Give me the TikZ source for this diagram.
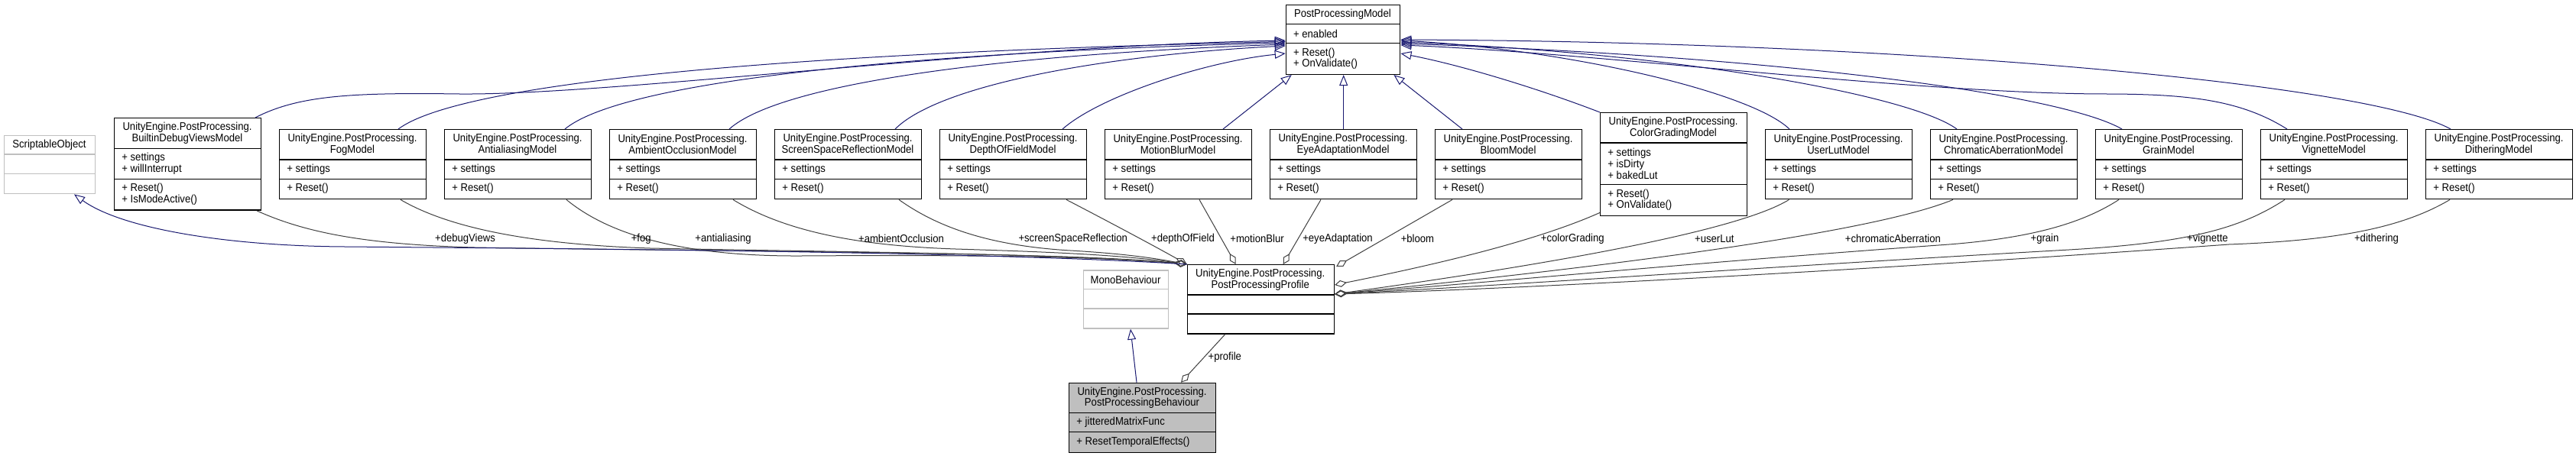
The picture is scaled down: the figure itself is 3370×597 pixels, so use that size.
\documentclass[tikz,border=0pt]{standalone}
\usepackage{fontspec}
\setmainfont{Liberation Sans}[FakeStretch=0.91]
\usetikzlibrary{arrows.meta,calc}
\definecolor{navy}{HTML}{191970}
\definecolor{edgegray}{HTML}{404040}
\definecolor{boxgray}{HTML}{BFBFBF}
\newcommand\umlfont{\fontsize{7.2}{7.35}\selectfont}
\def\splitthree#1/#2/#3\relax{\def\ha{#1}\def\hb{#2}\def\hc{#3}}
\tikzset{
  umlbox/.style={draw=black, fill=white, line width=0.7pt},
  extbox/.style={draw=boxgray, fill=white, line width=0.7pt},
  curbox/.style={draw=black, fill=boxgray, line width=0.7pt},
  txt/.style={inner sep=0pt, font=\umlfont},
  lbl/.style={inner sep=0pt, font=\umlfont},
  inh/.style={draw=navy, line width=0.5pt, -{Triangle[open, length=7pt, width=5.5pt]}},
  comp/.style={draw=edgegray, line width=0.5pt, -{Diamond[open, length=8pt, width=4.5pt]}},
}
% #1 style, #2 name, #3 x, #4 y, #5 width, #6 h1/h2/h3, #7 title, #8 attributes, #9 methods
\newcommand\classbox[9]{%
  \splitthree#6\relax
  \pgfmathsetmacro\yA{#4+\ha}%
  \pgfmathsetmacro\yB{\yA+\hb}%
  \pgfmathsetmacro\yC{\yB+\hc}%
  \node[#1, inner sep=0pt, anchor=north west, minimum width=#5*0.5pt, minimum height=(\yC-#4)*0.5pt] (#2) at (#3,#4) {};
  \draw[#1] (#3,\yA) -- ++(#5,0);
  \draw[#1] (#3,\yB) -- ++(#5,0);
  \node[txt, align=center] (#2-t) at ({#3+#5/2},{#4+\ha/2}) {#7};
  \node[txt, align=left, anchor=west] (#2-a) at ({#3+10},{\yA+\hb/2}) {#8};
  \node[txt, align=left, anchor=west] (#2-m) at ({#3+10},{\yB+\hc/2}) {#9};
}
\begin{document}
\begin{tikzpicture}[x=0.5pt,y=-0.5pt]
\fill[white] (0,0) rectangle (3370,597);
\useasboundingbox (0,0) rectangle (3370,597);

% classes
\classbox{extbox}{so}{5}{177}{119}{25/25.5/25.5}{ScriptableObject}{}{}
\classbox{umlbox}{model}{1681.7}{5.7}{149.3}{26/25/40}{PostProcessingModel}{+ enabled}{+ Reset()\\+ OnValidate()}
\classbox{umlbox}{debug}{149}{154}{192}{40.5/40/40}{UnityEngine.PostProcessing.\\BuiltinDebugViewsModel}{+ settings\\+ willInterrupt}{+ Reset()\\+ IsModeActive()}
\classbox{umlbox}{fog}{365}{169}{192}{40/25.5/25.5}{UnityEngine.PostProcessing.\\FogModel}{+ settings}{+ Reset()}
\classbox{umlbox}{aa}{581}{169}{192}{40/25.5/25.5}{UnityEngine.PostProcessing.\\AntialiasingModel}{+ settings}{+ Reset()}
\classbox{umlbox}{ao}{797}{169}{192}{40/25.5/25.5}{UnityEngine.PostProcessing.\\AmbientOcclusionModel}{+ settings}{+ Reset()}
\classbox{umlbox}{ssr}{1013}{169}{192}{40/25.5/25.5}{UnityEngine.PostProcessing.\\ScreenSpaceReflectionModel}{+ settings}{+ Reset()}
\classbox{umlbox}{dof}{1229}{169}{192}{40/25.5/25.5}{UnityEngine.PostProcessing.\\DepthOfFieldModel}{+ settings}{+ Reset()}
\classbox{umlbox}{mb}{1445}{169}{192}{40/25.5/25.5}{UnityEngine.PostProcessing.\\MotionBlurModel}{+ settings}{+ Reset()}
\classbox{umlbox}{ea}{1661}{169}{192}{40/25.5/25.5}{UnityEngine.PostProcessing.\\EyeAdaptationModel}{+ settings}{+ Reset()}
\classbox{umlbox}{bloom}{1877}{169}{192}{40/25.5/25.5}{UnityEngine.PostProcessing.\\BloomModel}{+ settings}{+ Reset()}
\classbox{umlbox}{cg}{2093}{147}{192}{40/54.7/40.3}{UnityEngine.PostProcessing.\\ColorGradingModel}{+ settings\\+ isDirty\\+ bakedLut}{+ Reset()\\+ OnValidate()}
\classbox{umlbox}{ul}{2309}{169}{192}{40/25.5/25.5}{UnityEngine.PostProcessing.\\UserLutModel}{+ settings}{+ Reset()}
\classbox{umlbox}{ca}{2525}{169}{192}{40/25.5/25.5}{UnityEngine.PostProcessing.\\ChromaticAberrationModel}{+ settings}{+ Reset()}
\classbox{umlbox}{grain}{2741}{169}{192}{40/25.5/25.5}{UnityEngine.PostProcessing.\\GrainModel}{+ settings}{+ Reset()}
\classbox{umlbox}{vig}{2957}{169}{192}{40/25.5/25.5}{UnityEngine.PostProcessing.\\VignetteModel}{+ settings}{+ Reset()}
\classbox{umlbox}{dith}{3173}{169}{192}{40/25.5/25.5}{UnityEngine.PostProcessing.\\DitheringModel}{+ settings}{+ Reset()}
\classbox{umlbox}{profile}{1552.7}{346}{192}{40/25/25.3}{UnityEngine.PostProcessing.\\PostProcessingProfile}{}{}
\classbox{extbox}{mono}{1417}{353.3}{111}{25.4/25.3/25.3}{MonoBehaviour}{}{}
\classbox{curbox}{beh}{1398}{500.7}{192}{40/25/26}{UnityEngine.PostProcessing.\\PostProcessingBehaviour}{+ jitteredMatrixFunc}{+ ResetTemporalEffects()}

% inheritance to PostProcessingModel
\draw[inh] ($(debug.north west)+(185,0)$) .. controls (390,125) and (460,121) .. (600,123) .. controls (800,125) and (1300,60) .. ($(model.north west)+(0,47.3)$);
\draw[inh] ($(fog.north west)+(156,0)$) .. controls (600,110) and (1000,70) .. ($(model.north west)+(0,48.8)$);
\draw[inh] ($(aa.north west)+(158,0)$) .. controls (810,110) and (1150,70) .. ($(model.north west)+(0,50.3)$);
\draw[inh] ($(ao.north west)+(157,0)$) .. controls (1020,110) and (1300,72) .. ($(model.north west)+(0,52.3)$);
\draw[inh] ($(ssr.north west)+(158,0)$) .. controls (1230,110) and (1450,72) .. ($(model.north west)+(0,54.3)$);
\draw[inh] ($(dof.north west)+(161,0)$) .. controls (1440,125) and (1580,80) .. ($(model.north west)+(0,64.3)$);
\draw[inh] ($(mb.north west)+(155,0)$) -- ($(model.south west)+(8,0)$);
\draw[inh] (ea.north) -- (ea.north |- model.south);
\draw[inh] ($(bloom.north west)+(36,0)$) -- ($(model.south east)+(-9,0)$);
\draw[inh] (cg.north west) .. controls (2010,115) and (1910,85) .. ($(model.north east)+(0,64.3)$);
\draw[inh] ($(ul.north west)+(32,0)$) .. controls (2290,120) and (2050,65) .. ($(model.north east)+(0,47.3)$);
\draw[inh] ($(ca.north west)+(35,0)$) .. controls (2500,125) and (2200,70) .. ($(model.north east)+(0,49.3)$);
\draw[inh] ($(grain.north west)+(35,0)$) .. controls (2700,125) and (2350,75) .. ($(model.north east)+(0,51.3)$);
\draw[inh] ($(vig.north west)+(35,0)$) .. controls (2930,130) and (2860,123) .. (2750,123) .. controls (2500,122) and (2100,70) .. ($(model.north east)+(0,53.3)$);
\draw[inh] ($(dith.north west)+(33,0)$) .. controls (3100,110) and (2500,55) .. ($(model.north east)+(0,46.3)$);

% composition to PostProcessingProfile
\draw[comp] ($(debug.south west)+(187,0)$) .. controls (400,305) and (480,320) .. (620,324) .. controls (1000,330) and (1400,330) .. (profile.north west);
\draw[comp] ($(fog.south west)+(159,0)$) .. controls (590,300) and (700,320) .. (850,325) .. controls (1100,330) and (1400,332) .. (profile.north west);
\draw[comp] ($(aa.south west)+(160,0)$) .. controls (800,310) and (900,336) .. (1050,335) .. controls (1200,334) and (1420,334) .. (profile.north west);
\draw[comp] ($(ao.south west)+(162,0)$) .. controls (1030,305) and (1130,322) .. (1250,326) .. controls (1380,330) and (1470,334) .. (profile.north west);
\draw[comp] ($(ssr.south west)+(163,0)$) .. controls (1230,300) and (1300,322) .. (1400,328) .. controls (1470,332) and (1510,338) .. (profile.north west);
\draw[comp] ($(dof.south west)+(166,0)$) .. controls (1450,290) and (1510,322) .. (profile.north west);
\draw[comp] ($(mb.south west)+(124,0)$) -- ($(profile.north west)+(64,0)$);
\draw[comp] ($(ea.south west)+(67,0)$) -- ($(profile.north west)+(126,0)$);
\draw[comp] ($(bloom.south west)+(23,0)$) -- ($(profile.north east)+(2,3)$);
\draw[comp] ($(cg.south west)+(0,-5)$) .. controls (2000,320) and (1850,352) .. ($(profile.north east)+(0,27)$);
\draw[comp] ($(ul.south west)+(31.5,0)$) .. controls (2270,305) and (2000,350) .. ($(profile.north east)+(0,39)$);
\draw[comp] ($(ca.south west)+(30,0)$) .. controls (2450,305) and (2100,350) .. ($(profile.north east)+(0,39)$);
\draw[comp] ($(grain.south west)+(31,0)$) .. controls (2720,295) and (2650,312) .. (2550,320) .. controls (2200,345) and (1950,370) .. ($(profile.north east)+(0,39)$);
\draw[comp] ($(vig.south west)+(32,0)$) .. controls (2930,300) and (2860,318) .. (2707,327) .. controls (2300,350) and (1950,375) .. ($(profile.north east)+(0,39)$);
\draw[comp] ($(dith.south west)+(32,0)$) .. controls (3140,300) and (3050,315) .. (2916,320) .. controls (2500,350) and (2000,378) .. ($(profile.north east)+(0,39)$);

% profile relations
\draw[inh] (profile.north west) .. controls (1300,330) and (800,326) .. (450,323) .. controls (300,322) and (160,300) .. ($(so.south west)+(92,0)$);
\draw[comp] ($(profile.south west)+(50,0)$) -- ($(beh.north west)+(147,0)$);
\draw[inh] ($(beh.north west)+(89,0)$) -- ($(mono.south west)+(62,0)$);

% labels
\node[lbl] (l-debug) at (608.5,312.7) {+debugViews};
\node[lbl] (l-fog) at (838.7,312.7) {+fog};
\node[lbl] (l-aa) at (946,312.7) {+antialiasing};
\node[lbl] (l-ao) at (1179,312.7) {+ambientOcclusion};
\node[lbl] (l-ssr) at (1403.7,312.7) {+screenSpaceReflection};
\node[lbl] (l-dof) at (1547.5,312.7) {+depthOfField};
\node[lbl] (l-mb) at (1644.5,312.7) {+motionBlur};
\node[lbl] (l-ea) at (1750,312.7) {+eyeAdaptation};
\node[lbl] (l-bloom) at (1854.4,312.7) {+bloom};
\node[lbl] (l-cg) at (2057.3,312.7) {+colorGrading};
\node[lbl] (l-ul) at (2242.8,312.7) {+userLut};
\node[lbl] (l-ca) at (2476.4,312.7) {+chromaticAberration};
\node[lbl] (l-grain) at (2675,312.7) {+grain};
\node[lbl] (l-vig) at (2887.9,312.7) {+vignette};
\node[lbl] (l-dith) at (3109,312.7) {+dithering};
\node[lbl] (l-profile) at (1602.3,467.3) {+profile};
\end{tikzpicture}
\end{document}
